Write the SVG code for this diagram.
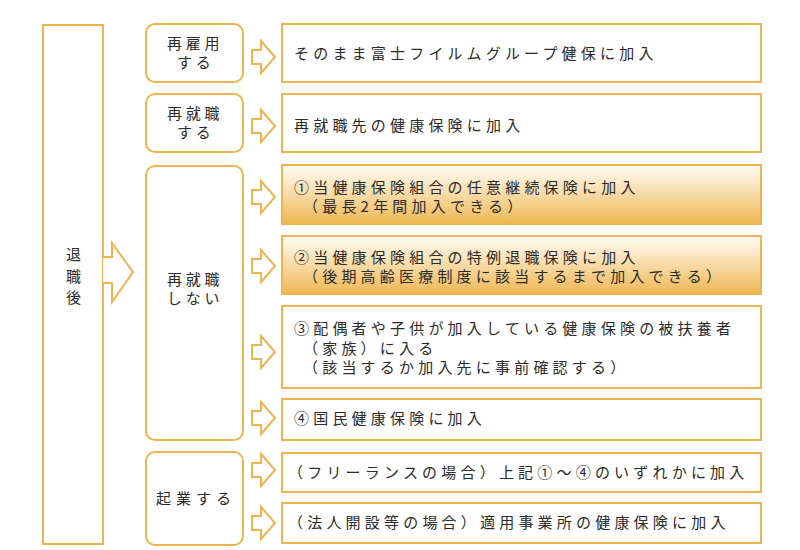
<svg xmlns="http://www.w3.org/2000/svg" width="800" height="550" viewBox="0 0 800 550">
<defs>
<linearGradient id="g" x1="0" y1="0" x2="0" y2="1">
<stop offset="0" stop-color="#FFFDF8"/>
<stop offset="1" stop-color="#EFB753"/>
</linearGradient>
<style>
.b{fill:#fff;stroke:#EEB450;stroke-width:2}
.gr{fill:url(#g);stroke:#EEB450;stroke-width:2}
.a{fill:#fff;stroke:#EEB450;stroke-width:2;stroke-linejoin:miter}
text{font-family:"Noto Sans CJK JP","Noto Sans",sans-serif;font-size:15px;fill:#2b2b2b;letter-spacing:4.2px}
.m{letter-spacing:3.8px}
</style>
</defs>
<rect width="800" height="550" fill="#fff"/>

<g id="left">
<rect class="b" x="43" y="25" width="60" height="519"/>
<text x="66" y="260" style="letter-spacing:0">退</text>
<text x="66" y="282" style="letter-spacing:0">職</text>
<text x="66" y="303" style="letter-spacing:0">後</text>
</g>

<g id="mid1">
<rect class="b" x="146" y="24" width="97" height="58" rx="9"/>
<text class="m" x="167" y="49">再雇用</text>
<text class="m" x="177" y="68">する</text>
</g>
<g id="mid2">
<rect class="b" x="146" y="94" width="97" height="58" rx="9"/>
<text class="m" x="167" y="119">再就職</text>
<text class="m" x="177" y="138">する</text>
</g>
<g id="mid3">
<rect class="b" x="146" y="166" width="97" height="274" rx="9"/>
<text class="m" x="167" y="285">再就職</text>
<text class="m" x="167" y="304">しない</text>
</g>
<g id="mid4">
<rect class="b" x="146" y="452" width="97" height="93" rx="9"/>
<text style="letter-spacing:5px" x="156" y="504">起業する</text>
</g>

<g id="r1">
<rect class="b" x="282" y="24" width="479" height="58"/>
<text x="294" y="58.5">そのまま富士フイルムグループ健保に加入</text>
</g>
<g id="r2">
<rect class="b" x="282" y="94" width="479" height="58"/>
<text x="294" y="130.5">再就職先の健康保険に加入</text>
</g>
<g id="r3">
<rect class="gr" x="282" y="165" width="479" height="59"/>
<text x="294" y="193">①当健康保険組合の任意継続保険に加入</text>
<text x="303" y="212">（最長2年間加入できる）</text>
</g>
<g id="r4">
<rect class="gr" x="282" y="236" width="479" height="58"/>
<text x="294" y="263">②当健康保険組合の特例退職保険に加入</text>
<text x="303" y="282">（後期高齢医療制度に該当するまで加入できる）</text>
</g>
<g id="r5">
<rect class="b" x="282" y="306" width="479" height="82"/>
<text x="294" y="334">③配偶者や子供が加入している健康保険の被扶養者</text>
<text x="303" y="353.5">（家族）に入る</text>
<text x="303" y="372.5">（該当するか加入先に事前確認する）</text>
</g>
<g id="r6">
<rect class="b" x="282" y="399" width="479" height="41"/>
<text x="294" y="423.5">④国民健康保険に加入</text>
</g>
<g id="r7">
<rect class="b" x="282" y="453" width="479" height="39"/>
<text x="288" y="477.5">（フリーランスの場合）上記①～④のいずれかに加入</text>
</g>
<g id="r8">
<rect class="b" x="282" y="503" width="479" height="40"/>
<text x="288" y="528">（法人開設等の場合）適用事業所の健康保険に加入</text>
</g>

<g id="connectors">
<polygon points="103,257 112,257 112,243 133,272 112,302 112,283 103,283" fill="#fff"/>
<polyline class="a" fill="none" points="103,257 112,257 112,243 133,272 112,302 112,283 103,283"/>
<g id="small">
<polygon class="a" points="252,50 261,50 261,41 275,57 261,73 261,64 252,64"/>
<polygon class="a" points="252,119 261,119 261,110 275,126 261,142 261,133 252,133"/>
<polygon class="a" points="252,190 261,190 261,181 275,197 261,213 261,204 252,204"/>
<polygon class="a" points="252,259 261,259 261,250 275,266 261,282 261,273 252,273"/>
<polygon class="a" points="252,345 261,345 261,336 275,352 261,368 261,359 252,359"/>
<polygon class="a" points="252,411 261,411 261,402 275,418 261,434 261,425 252,425"/>
<polygon class="a" points="252,463 261,463 261,454 275,470 261,486 261,477 252,477"/>
<polygon class="a" points="252,516 261,516 261,507 275,523 261,539 261,530 252,530"/>
</g>
</g>
</svg>
